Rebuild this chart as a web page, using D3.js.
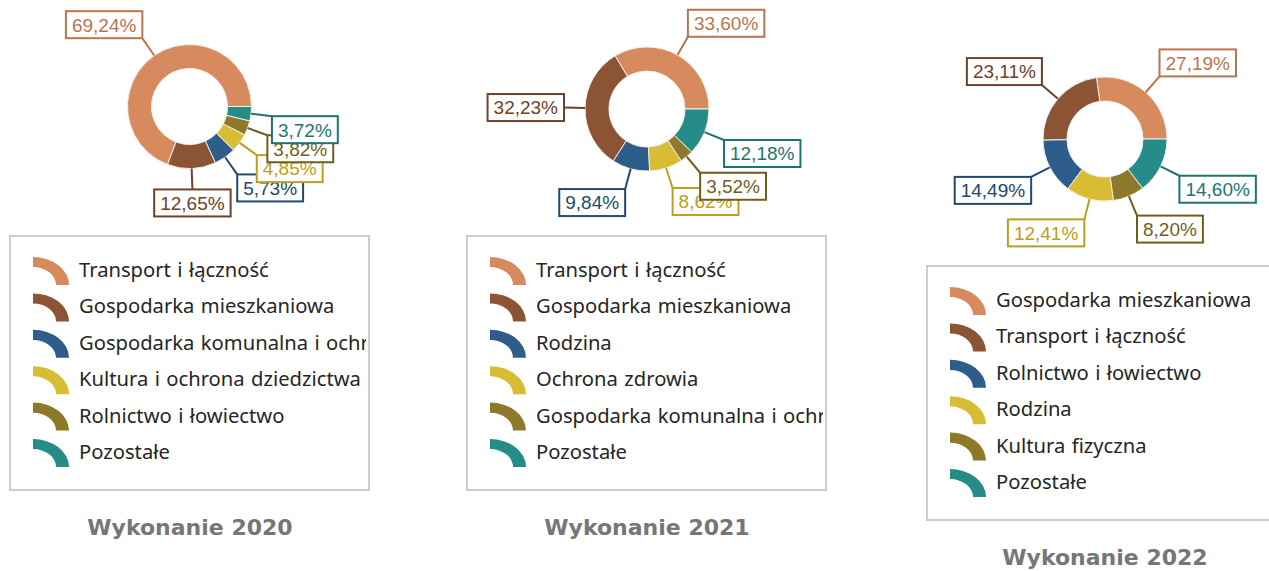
<!DOCTYPE html>
<html><head><meta charset="utf-8">
<script src="https://cdn.jsdelivr.net/npm/d3@7"></script>
<style>
html,body{margin:0;padding:0;background:#fff;}
svg{display:block;}
</style></head>
<body>
<svg id="chart" width="1269" height="571"></svg>
<script>
// ---- data ----
const titles = ["Wykonanie 2020", "Wykonanie 2021", "Wykonanie 2022"];
const categories2020 = ["Transport i łączność", "Gospodarka mieszkaniowa", "Gospodarka komunalna i ochrona środowiska", "Kultura i ochrona dziedzictwa narodowego", "Rolnictwo i łowiectwo", "Pozostałe"];
const values2020 = [69.24, 12.65, 5.73, 4.85, 3.82, 3.72];
const categories2021 = ["Transport i łączność", "Gospodarka mieszkaniowa", "Rodzina", "Ochrona zdrowia", "Gospodarka komunalna i ochrona środowiska", "Pozostałe"];
const values2021 = [33.60, 32.23, 9.84, 8.62, 3.52, 12.18];
const categories2022 = ["Gospodarka mieszkaniowa", "Transport i łączność", "Rolnictwo i łowiectwo", "Rodzina", "Kultura fizyczna", "Pozostałe"];
const values2022 = [27.19, 23.11, 14.49, 12.41, 8.20, 14.60];

// ---- styles ----
const sliceColors = ["#D68A5E", "#8B5535", "#2E5D8B", "#D8BC34", "#8C7A2A", "#268C87"];
const labelColors = ["#BA744F", "#6E4129", "#22496F", "#BC9E20", "#6E5F1B", "#1D7571"];

// layout per panel
const panels = [
  {cats: categories2020, vals: values2020, cx: 189.5, cy: 106.5, lx: 10, ly: 236, tx: 190, ty: 527},
  {cats: categories2021, vals: values2021, cx: 647, cy: 109, lx: 467, ly: 236, tx: 647, ty: 527},
  {cats: categories2022, vals: values2022, cx: 1105, cy: 139, lx: 927, ly: 266, tx: 1105, ty: 557}
];

const svg = d3.select("#chart");
const outerR = 62, innerR = 38, labelR = 83;
const legendW = 359, legendH = 254, rowH = 36.4, firstRow = 34;
const locale = d3.formatLocale({decimal: ",", thousands: " ", grouping: [3], currency: ["", " zł"]});
const fmt = v => locale.format(".2f")(v) + "%";

const pie = d3.pie().sort(null).value(d => d).startAngle(Math.PI / 2).endAngle(Math.PI / 2 - 2 * Math.PI);
const arc = d3.arc().innerRadius(innerR).outerRadius(outerR);
const color = d3.scaleOrdinal().domain(d3.range(6)).range(sliceColors);
const lcolor = d3.scaleOrdinal().domain(d3.range(6)).range(labelColors);

panels.forEach((p, pi) => {
  const g = svg.append("g").attr("transform", `translate(${p.cx},${p.cy})`);
  const arcs = pie(p.vals);
  g.selectAll("path.slice").data(arcs).join("path")
    .attr("class", "slice")
    .attr("d", arc)
    .attr("fill", (d, i) => color(i))
    .attr("stroke", "#f4efe9").attr("stroke-width", 1);

  // labels
  const lab = g.selectAll("g.lab").data(arcs).join("g").attr("class", "lab");
  lab.each(function (d, i) {
    const sel = d3.select(this);
    const a = (d.startAngle + d.endAngle) / 2;
    const sx = Math.sin(a), sy = -Math.cos(a);
    const x0 = outerR * sx, y0 = outerR * sy;
    const x1 = labelR * sx, y1 = labelR * sy;
    sel.append("line").attr("x1", x0).attr("y1", y0).attr("x2", x1).attr("y2", y1)
      .attr("stroke", lcolor(i)).attr("stroke-width", 2);
    const t = sel.append("text").text(fmt(d.data))
      .attr("font-family", "Liberation Sans, Arial, sans-serif")
      .attr("font-size", 19).attr("fill", lcolor(i));
    const tw = t.node().getComputedTextLength();
    const pad = 6, bw = tw + 2 * pad, bh = 27;
    let bx, by;
    if (Math.abs(sx) < 0.08) bx = x1 - bw / 2; else if (sx > 0) bx = x1; else bx = x1 - bw;
    if (Math.abs(sy) < 0.08) by = y1 - bh / 2; else if (sy < 0) by = y1 - bh; else by = y1;
    sel.insert("rect", "text").attr("x", bx).attr("y", by).attr("width", bw).attr("height", bh)
      .attr("fill", "#fff").attr("stroke", lcolor(i)).attr("stroke-width", 2);
    t.attr("x", bx + pad).attr("y", by + bh / 2).attr("dy", "0.36em");
  });

  // legend
  const clipId = "clip" + pi;
  svg.append("clipPath").attr("id", clipId).append("rect")
    .attr("x", p.lx).attr("y", p.ly).attr("width", legendW - 3).attr("height", legendH);
  svg.append("rect").attr("x", p.lx).attr("y", p.ly).attr("width", legendW).attr("height", legendH)
    .attr("fill", "#fff").attr("stroke", "#cccccc").attr("stroke-width", 2);
  const lg = svg.append("g").attr("clip-path", `url(#${clipId})`);
  const iconW = 36, iconH = 28, iconT = 13;
  const iconArc = d3.arc().innerRadius(iconW - iconT).outerRadius(iconW).startAngle(0).endAngle(Math.PI / 2);
  const rows = lg.selectAll("g.row").data(p.cats).join("g").attr("class", "row")
    .attr("transform", (d, i) => `translate(${p.lx}, ${p.ly + firstRow + i * rowH})`);
  rows.append("path")
    .attr("d", iconArc())
    .attr("transform", `translate(23, ${iconH / 2 + 1}) scale(1, ${iconH / iconW})`)
    .attr("fill", (d, i) => color(i));
  rows.append("text").text(d => d)
    .attr("x", 69).attr("dy", "0.35em")
    .attr("font-family", "Noto Sans, sans-serif").attr("font-size", 20.2)
    .attr("word-spacing", 1.2).attr("fill", "#262626");

  // title
  svg.append("text").text(titles[pi])
    .attr("x", p.tx).attr("y", p.ty).attr("dy", "0.36em").attr("text-anchor", "middle")
    .attr("font-family", "DejaVu Sans, sans-serif").attr("font-weight", "bold")
    .attr("font-size", 22).attr("fill", "#767676");
});
</script>
</body></html>
